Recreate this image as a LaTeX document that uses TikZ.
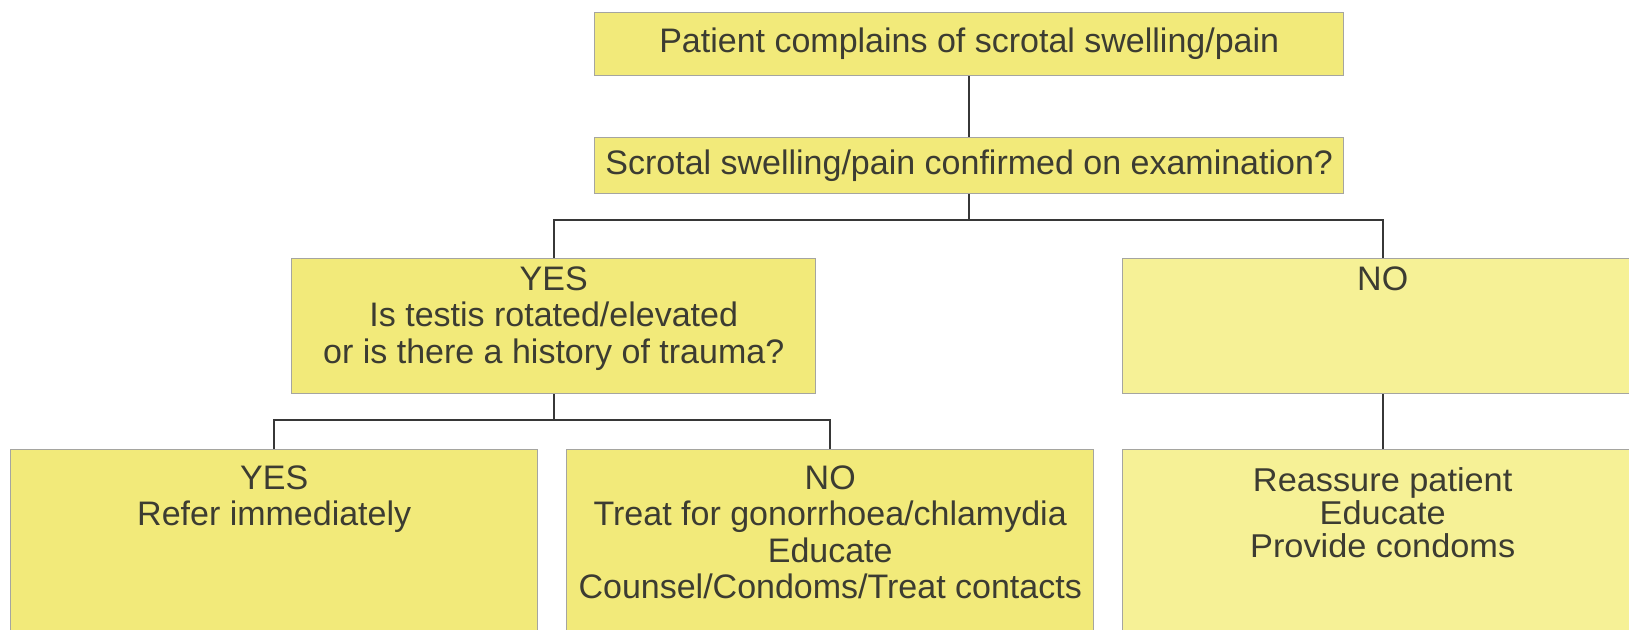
\documentclass[tikz,border=0pt]{standalone}
\usepackage{fontspec}
\setmainfont{Liberation Sans}
\newfontfamily\widefont[FakeStretch=1.04]{Liberation Sans}
\usetikzlibrary{calc}
\definecolor{boxfill}{RGB}{242,234,122}
\definecolor{boxfillb}{RGB}{246,241,150}
\definecolor{boxline}{RGB}{165,165,160}
\definecolor{linkcol}{RGB}{55,55,55}
\definecolor{txtcol}{RGB}{60,60,50}
\begin{document}
\begin{tikzpicture}[x=0.5pt,y=-0.5pt,
  flowbox/.style={draw=boxline, line width=0.7pt, fill=boxfill, inner sep=0pt, anchor=north west,
    text=txtcol, font=\fontsize{17}{18.25}\selectfont, align=center},
  lightbox/.style={flowbox, fill=boxfillb},
  boxtext/.style={text=txtcol, font=\fontsize{17}{18.25}\selectfont, align=center, inner sep=0pt, anchor=north},
  widetext/.style={boxtext, font=\widefont\fontsize{16.5}{16.6}\selectfont},
  link/.style={draw=linkcol, line width=1pt}]
\clip (0,0) rectangle (1629,630);
\fill[white] (0,0) rectangle (1629,630);
% boxes
\node[flowbox, minimum width=374.5pt, minimum height=31.5pt] (box1) at (594,12) {Patient complains of scrotal swelling/pain};
\node[flowbox, minimum width=374.5pt, minimum height=28pt] (box2) at (594,137) {Scrotal swelling/pain confirmed on examination?};
\node[flowbox, minimum width=262pt, minimum height=67.5pt] (yes) at (291,258) {};
\node[lightbox, minimum width=260pt, minimum height=67.5pt] (no) at (1122,258) {};
\node[flowbox, minimum width=263.5pt, minimum height=100pt] (bl) at (10,449) {};
\node[flowbox, minimum width=263.5pt, minimum height=100pt] (bm) at (566,449) {};
\node[lightbox, minimum width=260pt, minimum height=100pt] (br) at (1122,449) {};
% texts
\node[boxtext] (yest) at ($(yes.north)+(0,8)$) {YES\\Is testis rotated/elevated\\or is there a history of trauma?};
\node[boxtext] (not) at ($(no.north)+(0,8)$) {NO};
\node[boxtext] (blt) at ($(bl.north)+(0,16)$) {YES\\Refer immediately};
\node[boxtext] (bmt) at ($(bm.north)+(0,16)$) {NO\\Treat for gonorrhoea/chlamydia\\Educate\\Counsel/Condoms/Treat contacts};
\node[widetext] (brt) at ($(br.north)+(0,18)$) {Reassure patient\\Educate\\Provide condoms};
% junctions
\coordinate (j1) at (box2.south |- 0,220);
\coordinate (j2) at (yes.south |- 0,420);
% connectors
\draw[link] (box1.south) -- (box2.north);
\draw[link] (box2.south) -- (j1);
\draw[link] (yes.north) |- (j1) -| (no.north);
\draw[link] (yes.south) -- (j2);
\draw[link] (bl.north) |- (j2) -| (bm.north);
\draw[link] (no.south) -- (br.north);
\end{tikzpicture}
\end{document}
